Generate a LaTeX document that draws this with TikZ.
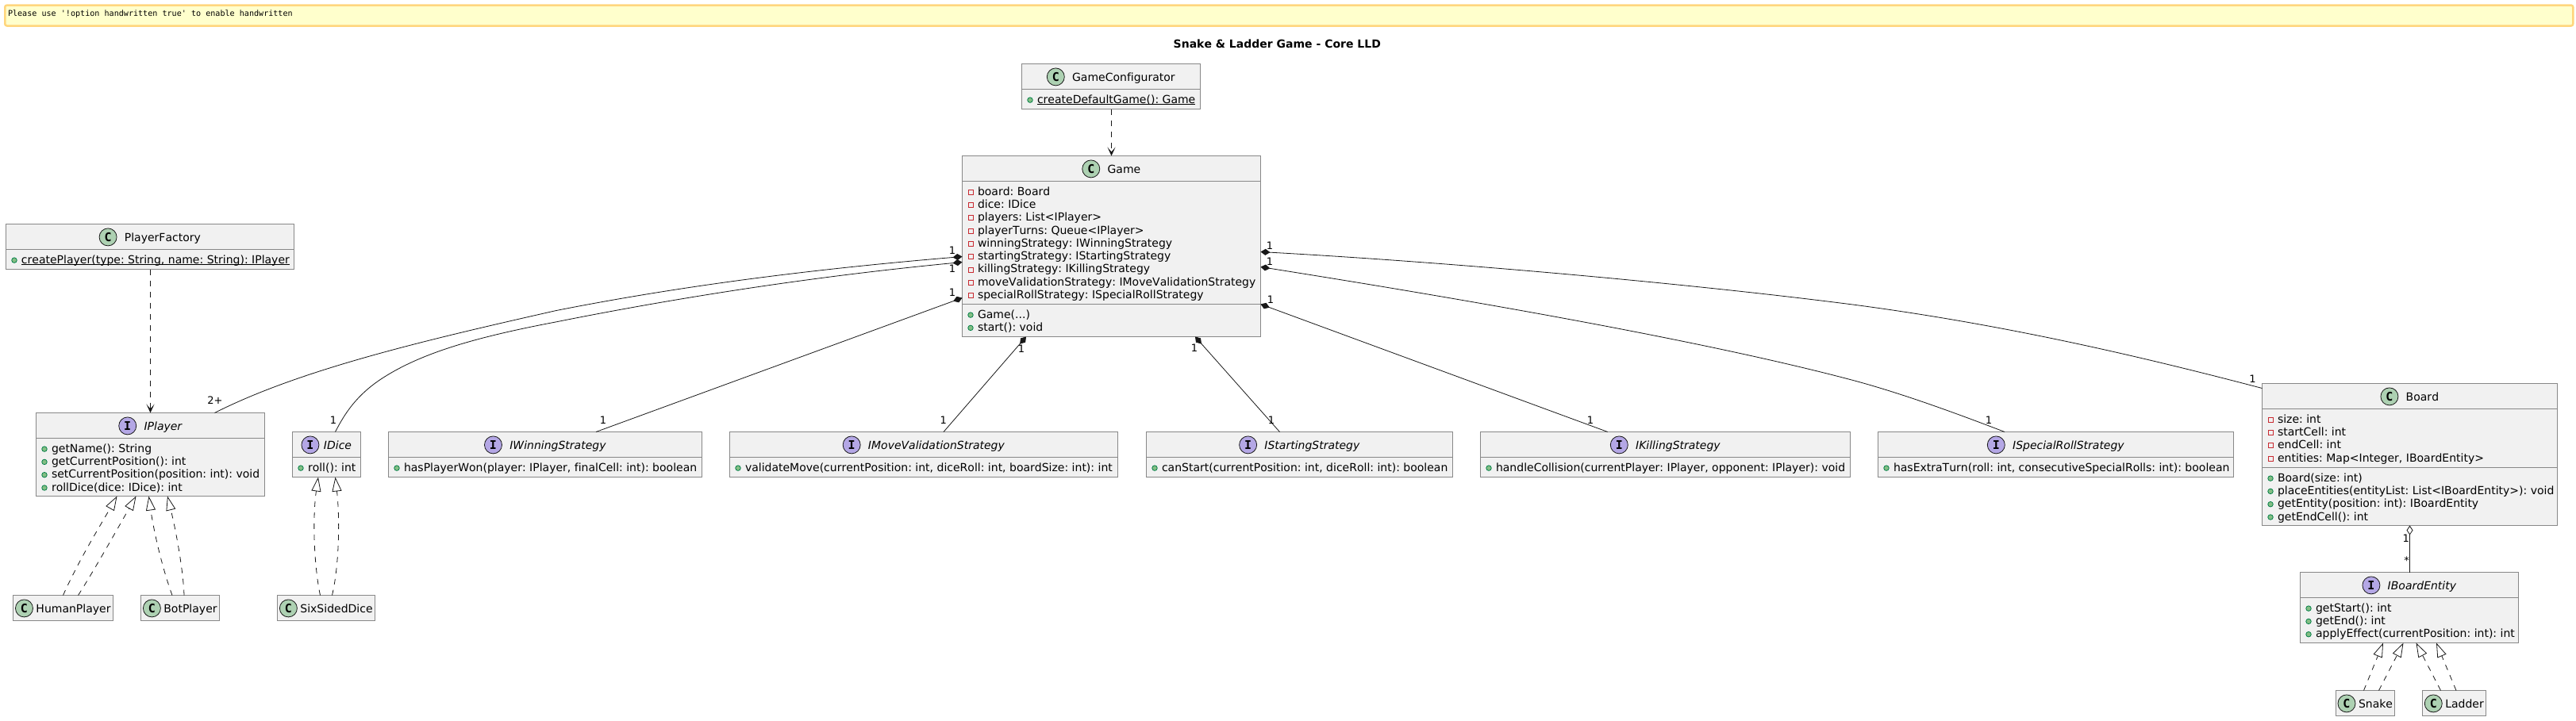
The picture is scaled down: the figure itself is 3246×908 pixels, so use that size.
\documentclass[tikz,border=0pt]{standalone}
\usepackage{fontspec}
\setmainfont[Kerning=Off,Ligatures=NoCommon]{DejaVu Sans}
\newfontfamily\monofamily{DejaVu Sans Mono}
\usetikzlibrary{calc,arrows.meta}

\begin{document}
\begin{tikzpicture}[x=1pt,y=-1pt]\fontsize{14}{16}\selectfont\frenchspacing
\useasboundingbox (0,0) rectangle (3246,908);

\definecolor{boxfill}{HTML}{F1F1F1}
\definecolor{boxline}{HTML}{888888}
\definecolor{relline}{HTML}{181818}
\definecolor{classspot}{HTML}{ADD1B2}
\definecolor{ifacespot}{HTML}{B4A7E5}

% Styles for the boxes and what goes inside them
\tikzstyle{umlrect}=[draw=boxline, fill=boxfill, line width=1pt, inner sep=0pt, outer sep=0pt, anchor=north west]
\tikzstyle{umlsep}=[draw=boxline, line width=1pt]
\tikzstyle{titletext}=[inner sep=0pt, outer sep=0pt, anchor=base]
\tikzstyle{rowtext}=[inner sep=0pt, outer sep=0pt, anchor=base west]
\tikzstyle{public}=[circle, draw={rgb,255:red,3;green,128;blue,72}, fill={rgb,255:red,132;green,190;blue,132}, line width=0.8pt, minimum size=6.5pt, inner sep=0pt]
\tikzstyle{private}=[rectangle, draw={rgb,255:red,200;green,41;blue,48}, line width=0.8pt, minimum size=6pt, inner sep=0pt]
\tikzstyle{spot}=[circle, draw=relline, line width=0.8pt, minimum size=22pt, inner sep=0pt, font=\monofamily\bfseries\fontsize{15}{15}\selectfont]
\tikzstyle{C}=[spot, fill=classspot]
\tikzstyle{I}=[spot, fill=ifacespot]

% Styles for the connectors and their labels
\tikzstyle{rel}=[draw=relline, line width=0.8pt]
\tikzstyle{compose}=[rel, {Diamond[length=12pt,width=8pt,fill=relline]}-]
\tikzstyle{aggregate}=[rel, {Diamond[open,length=12pt,width=8pt,fill=white]}-]
\tikzstyle{uses}=[rel, dash pattern=on 7pt off 7pt, -{Stealth[length=11pt,width=10pt,inset=6pt]}]
\tikzstyle{realize}=[rel, dash pattern=on 7pt off 7pt, -{Triangle[open,length=18pt,width=12pt,fill=white]}]
\tikzstyle{mult}=[inner sep=0pt, outer sep=0pt, font=\fontsize{13}{13}\selectfont]

% Underlined text of a static member
\newcommand{\staticrow}[1]{\setbox0\hbox{#1}\rlap{\raisebox{-2pt}{\rule{\wd0}{0.8pt}}}\box0}
% Three dots, kept in a macro as \foreach would read them as a range
\newcommand{\threedots}{...}

% A box with its title compartment
\newcommand{\umlbox}[8][31.8]{
% #1 = distance from left of spot to start of title
% #2 = name, #3, #4 = xcoord, ycoord of upper left corner
% #5, #6 = width, height
% #7 = C or I, #8 = title
\node[umlrect, minimum width=#5pt, minimum height=#6pt] (#2) at (#3,#4) {};
\node[titletext] (#2-title) at ($(#2.north)+(0,21.7)$) {\hspace*{#1pt}#8};
\node[#7] (#2-spot) at ($(#2-title.base west)+(11,-5.3)$) {#7};
\draw[umlsep] ($(#2.north west)+(0,32)$) -- ($(#2.north east)+(0,32)$);
}

% A compartment of a box: its upper line and its rows
\newcommand{\umlrows}[4]{
% #1 = name of box, #2 = distance of the line from top of box
% #3 = public or private, #4 = the rows
\draw[umlsep] ($(#1.north west)+(0,#2)$) -- ($(#1.north east)+(0,#2)$);
\foreach \rowlabel [count=\i from 0] in {#4} {
\pgfmathsetmacro{\rowy}{#2+17.6+\i*16.3}
\node[rowtext] (#1-row#2-\i) at ($(#1.north west)+(19.5,\rowy)$) {\rowlabel};
\node[#3] (#1-mark#2-\i) at ($(#1.north west)+(10.5,\rowy-4)$) {};
}
}

% The note and the title on top
\node[draw={rgb,255:red,255;green,214;blue,125}, fill={rgb,255:red,255;green,255;blue,204}, line width=2.5pt, rounded corners=2.5pt, minimum width=3236pt, minimum height=26pt, inner sep=0pt, anchor=north west] (note) at (5,5.3) {};
\node[rowtext, font=\monofamily\fontsize{10.1}{12}\selectfont] (notetext) at (10,20) {Please use '!option handwritten true' to enable handwritten};
\node[titletext, font=\bfseries] (title) at (1609.3,60.7) {Snake \& Ladder Game - Core LLD};

% Now the boxes
\umlbox{gameconfig}{1287.5}{80.5}{225}{57}{C}{GameConfigurator}
\umlrows{gameconfig}{32}{public}{\staticrow{createDefaultGame(): Game}}

\umlbox{game}{1212.5}{196.5}{376}{228}{C}{Game}
\umlrows{game}{32}{private}{board: Board, dice: IDice, players: List<IPlayer>, playerTurns: Queue<IPlayer>, winningStrategy: IWinningStrategy, startingStrategy: IStartingStrategy, killingStrategy: IKillingStrategy, moveValidationStrategy: IMoveValidationStrategy, specialRollStrategy: ISpecialRollStrategy}
\umlrows{game}{187}{public}{Game(\threedots), start(): void}

\umlbox{playerfactory}{7.5}{282.5}{363}{57}{C}{PlayerFactory}
\umlrows{playerfactory}{32}{public}{\staticrow{createPlayer(type: String, name: String): IPlayer}}

\umlbox{iplayer}{45.5}{520.5}{288}{105}{I}{\itshape IPlayer}
\umlrows{iplayer}{32}{public}{getName(): String, getCurrentPosition(): int, setCurrentPosition(position: int): void, rollDice(dice: IDice): int}

\umlbox[28]{idice}{368.5}{544.5}{86}{57}{I}{\itshape IDice}
\umlrows{idice}{32}{public}{roll(): int}

\umlbox{iwinning}{489.5}{544.5}{395}{57}{I}{\itshape IWinningStrategy}
\umlrows{iwinning}{32}{public}{{hasPlayerWon(player: IPlayer, finalCell: int): boolean}}

\umlbox{imove}{919.5}{544.5}{489}{57}{I}{\itshape IMoveValidationStrategy}
\umlrows{imove}{32}{public}{{validateMove(currentPosition: int, diceRoll: int, boardSize: int): int}}

\umlbox{istarting}{1444.5}{544.5}{386}{57}{I}{\itshape IStartingStrategy}
\umlrows{istarting}{32}{public}{{canStart(currentPosition: int, diceRoll: int): boolean}}

\umlbox{ikilling}{1865.5}{544.5}{466}{57}{I}{\itshape IKillingStrategy}
\umlrows{ikilling}{32}{public}{{handleCollision(currentPlayer: IPlayer, opponent: IPlayer): void}}

\umlbox{ispecial}{2366.5}{544.5}{448}{57}{I}{\itshape ISpecialRollStrategy}
\umlrows{ispecial}{32}{public}{{hasExtraTurn(roll: int, consecutiveSpecialRolls: int): boolean}}

\umlbox{board}{2850.5}{483.5}{372}{179}{C}{Board}
\umlrows{board}{32}{private}{size: int, startCell: int, endCell: int, {entities: Map<Integer, IBoardEntity>}}
\umlrows{board}{106}{public}{Board(size: int), placeEntities(entityList: List<IBoardEntity>): void, getEntity(position: int): IBoardEntity, getEndCell(): int}

\umlbox{iboard}{2898.5}{721.5}{275}{89}{I}{\itshape IBoardEntity}
\umlrows{iboard}{32}{public}{getStart(): int, getEnd(): int, applyEffect(currentPosition: int): int}

% The small boxes hold a title only
\tikzstyle{smallrect}=[umlrect, minimum height=32pt]
\newcommand{\smallbox}[5]{
\node[smallrect, minimum width=#4pt] (#1) at (#2,#3) {};
\node[titletext] (#1-title) at ($(#1.north)+(0,21.7)$) {\hspace*{26pt}#5};
\node[C] (#1-spot) at ($(#1-title.base west)+(11,-5.3)$) {C};
}
\smallbox{human}{16.5}{750.5}{126}{HumanPlayer}
\smallbox{bot}{177.5}{750.5}{99}{BotPlayer}
\smallbox{sixsided}{349.5}{750.5}{123}{SixSidedDice}
\smallbox{snake}{2943.5}{870.5}{74}{Snake}
\smallbox{ladder}{3052.5}{870.5}{80}{Ladder}

% Connectors out of Game, left side
\draw[compose] ($(game.north west)+(0,127)$) .. controls (1040,338) and (870,358) .. (700,391.7) .. controls (540,428) and (380,465) .. ($(iplayer.north west)+(225,0)$);
\draw[compose] ($(game.north west)+(0,134)$) .. controls (1040,347) and (870,372) .. (700,406) .. controls (600,425) and (530,445) .. (480,478) .. controls (450,498) and (435,520) .. ($(idice.north west)+(54,0)$);
\draw[compose] ($(game.north west)+(0,179)$) -- ($(iwinning.north west)+(261.5,0)$);

% Connectors out of Game, bottom
\draw[compose] ($(game.south west)+(80.5,0)$) -- ($(imove.north west)+(269.5,0)$);
\draw[compose] ($(game.south west)+(293.5,0)$) -- ($(istarting.north west)+(168,0)$);

% Connectors out of Game, right side
\draw[compose] ($(game.north east)+(0,187)$) -- ($(ikilling.north west)+(160.3,0)$);
\draw[compose] ($(game.north east)+(0,140)$) .. controls (1850,378) and (2150,430) .. (2337,480) .. controls (2400,497) and (2470,523) .. ($(ispecial.north west)+(159.5,0)$);
\draw[compose] ($(game.north east)+(0,121)$) .. controls (1850,332) and (2150,360) .. (2340,384.7) .. controls (2530,410) and (2700,450) .. ($(board.north west)+(0,6)$);

% The dependencies
\draw[uses] ($(gameconfig.south west)+(113,0)$) -- ($(game.north west)+(188,0)$);
\draw[uses] ($(playerfactory.south west)+(182,0)$) -- ($(iplayer.north west)+(144,0)$);
\draw[aggregate] ($(board.south west)+(186,0)$) -- ($(iboard.north west)+(138,0)$);

% The implementations, two for each class
\draw[realize] ($(human.north west)+(63,0)$) .. controls (100,705) and (125,665) .. ($(iplayer.south west)+(102,0)$);
\draw[realize] ($(human.north west)+(82,0)$) .. controls (118,720) and (145,672) .. ($(iplayer.south west)+(126,0)$);
\draw[realize] ($(bot.north west)+(39.5,0)$) .. controls (203,712) and (193,665) .. ($(iplayer.south west)+(142,0)$);
\draw[realize] ($(bot.north west)+(54.5,0)$) .. controls (231,720) and (222,670) .. ($(iplayer.south west)+(165.5,0)$);
\draw[realize] ($(sixsided.north west)+(54,0)$) .. controls (395,710) and (394,650) .. ($(idice.south west)+(32.5,0)$);
\draw[realize] ($(sixsided.north west)+(69,0)$) .. controls (428,710) and (428,650) .. ($(idice.south west)+(54,0)$);
\draw[realize] ($(snake.north west)+(35,0)$) -- ($(iboard.south west)+(104.5,0)$);
\draw[realize] ($(snake.north west)+(54,0)$) -- ($(iboard.south west)+(130,0)$);
\draw[realize] ($(ladder.north west)+(23,0)$) -- ($(iboard.south west)+(146,0)$);
\draw[realize] ($(ladder.north west)+(42.5,0)$) -- ($(iboard.south west)+(171.5,0)$);

% The multiplicities
\node[mult] (mult-left1) at (1200,315.7) {1};
\node[mult] (mult-left2) at (1200,338.3) {1};
\node[mult] (mult-left3) at (1200,368.3) {1};
\node[mult] (mult-right1) at (1600,309.3) {1};
\node[mult] (mult-right2) at (1600,329.3) {1};
\node[mult] (mult-right3) at (1601,377.3) {1};
\node[mult] (mult-bottom1) at (1287,440) {1};
\node[mult] (mult-bottom2) at (1505,439) {1};
\node[mult] (mult-iplayer) at (271,504.3) {2+};
\node[mult] (mult-idice) at (420,530) {1};
\node[mult] (mult-iwinning) at (760,529.5) {1};
\node[mult] (mult-imove) at (1188.7,529.5) {1};
\node[mult] (mult-istarting) at (1602,530) {1};
\node[mult] (mult-ikilling) at (2004,530) {1};
\node[mult] (mult-ispecial) at (2506,529.5) {1};
\node[mult] (mult-board) at (2838.5,477.3) {1};
\node[mult] (mult-aggregate) at (3031.7,678.3) {1};
\node[mult] (mult-entity) at (3032.7,707) {*};

\end{tikzpicture}
\end{document}
